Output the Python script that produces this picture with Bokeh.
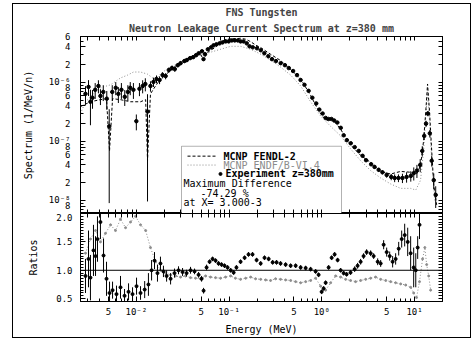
import math
from bokeh.plotting import figure
from bokeh.layouts import column
from bokeh.models import (LogAxis, LinearAxis, FixedTicker, Span, Label,
                          BoxAnnotation, Title, Range1d)
from bokeh.embed import file_html
from bokeh.resources import INLINE

# ---------------- data ----------------
exp_energy = [2.83e-3, 3.05e-3, 3.2e-3, 3.37e-3, 3.6e-3, 3.9e-3, 4.1e-3, 4.4e-3, 4.8e-3, 5.1e-3,
              5.5e-3, 6.0e-3, 6.4e-3, 6.9e-3, 7.5e-3, 8.1e-3, 8.6e-3, 9.3e-3, 1.0e-2, 1.08e-2,
              1.17e-2, 1.25e-2, 1.32e-2, 1.42e-2, 1.53e-2, 1.65e-2, 1.78e-2, 1.92e-2, 2.07e-2, 2.24e-2,
              2.42e-2, 2.6e-2, 2.8e-2, 3.0e-2, 3.3e-2, 3.5e-2, 3.8e-2, 4.1e-2, 4.4e-2, 4.7e-2,
              5.1e-2, 5.3e-2, 5.5e-2, 5.9e-2, 6.4e-2, 6.8e-2, 7.3e-2, 7.9e-2, 8.5e-2, 9.2e-2,
              9.9e-2, 0.107, 0.115, 0.124, 0.133, 0.143, 0.155, 0.166, 0.18, 0.20,
              0.22, 0.24, 0.265, 0.29, 0.32, 0.36, 0.40, 0.44, 0.49, 0.54,
              0.59, 0.65, 0.72, 0.79, 0.87, 0.94, 1.02, 1.10, 1.18, 1.27,
              1.36, 1.47, 1.60, 1.72, 1.86, 2.05, 2.26, 2.5, 2.75, 3.0,
              3.4, 3.7, 4.1, 4.5, 5.0, 5.6, 6.1, 6.7, 7.4, 8.2,
              9.1, 9.8, 10.6, 11.5, 12.1, 12.7, 13.3, 13.9, 14.6, 15.3,
              16.1, 16.9]
exp_flux = [6.4e-7, 8.4e-7, 4.7e-7, 5.5e-7, 7.5e-7, 8.7e-7, 5.9e-7, 6.9e-7, 5.3e-7, 1.8e-7,
            6.9e-7, 8.1e-7, 6.4e-7, 7.5e-7, 5.7e-7, 6.9e-7, 8.1e-7, 7.5e-7, 2.2e-7, 7.8e-7,
            8.7e-7, 9.4e-7, 3.2e-7, 8.7e-7, 1.02e-6, 1.14e-6, 1.10e-6, 1.33e-6, 1.28e-6, 1.62e-6,
            1.75e-6, 1.68e-6, 1.96e-6, 2.12e-6, 2.30e-6, 2.39e-6, 2.58e-6, 2.68e-6, 2.89e-6, 3.12e-6,
            3.37e-6, 2.48e-6, 3.01e-6, 3.64e-6, 3.93e-6, 4.25e-6, 4.42e-6, 4.59e-6, 4.77e-6, 4.96e-6,
            4.96e-6, 5.15e-6, 5.15e-6, 5.15e-6, 4.96e-6, 4.96e-6, 4.59e-6, 4.09e-6, 3.93e-6, 3.79e-6,
            3.51e-6, 3.12e-6, 2.78e-6, 2.48e-6, 2.30e-6, 2.12e-6, 1.96e-6, 1.75e-6, 1.56e-6, 1.33e-6,
            1.10e-6, 9.1e-7, 7.2e-7, 5.5e-7, 4.4e-7, 3.46e-7, 2.97e-7, 2.5e-7, 2.4e-7, 2.4e-7,
            2.26e-7, 2.09e-7, 1.7e-7, 1.27e-7, 1.05e-7, 9.3e-8, 8.0e-8, 6.9e-8, 5.7e-8, 4.8e-8,
            4.1e-8, 3.7e-8, 3.3e-8, 3.0e-8, 2.7e-8, 2.5e-8, 2.4e-8, 2.4e-8, 2.4e-8, 2.5e-8,
            2.6e-8, 2.9e-8, 3.2e-8, 4.0e-8, 6.9e-8, 1.24e-7, 2.0e-7, 2.97e-7, 1.37e-7, 4.7e-8,
            2.2e-8, 1.24e-8]
exp_relerr = [0.35, 0.3, 0.6, 0.35, 0.3, 0.25, 0.3, 0.3, 0.35, 0.95,
              0.3, 0.25, 0.3, 0.3, 0.3, 0.3, 0.25, 0.3, 0.3, 0.25,
              0.25, 0.25, 0.97, 0.2, 0.18, 0.15, 0.15, 0.12, 0.12, 0.1,
              0.1, 0.1, 0.08, 0.08, 0.07, 0.07, 0.06, 0.06, 0.05, 0.05,
              0.05, 0.06, 0.05, 0.04, 0.04, 0.04, 0.04, 0.04, 0.03, 0.03,
              0.03, 0.03, 0.03, 0.03, 0.03, 0.03, 0.03, 0.03, 0.03, 0.03,
              0.03, 0.03, 0.03, 0.03, 0.03, 0.03, 0.03, 0.03, 0.03, 0.03,
              0.03, 0.03, 0.03, 0.04, 0.04, 0.04, 0.04, 0.04, 0.04, 0.04,
              0.04, 0.04, 0.05, 0.05, 0.05, 0.05, 0.05, 0.06, 0.06, 0.06,
              0.07, 0.07, 0.08, 0.08, 0.1, 0.12, 0.15, 0.15, 0.18, 0.2,
              0.2, 0.25, 0.25, 0.25, 0.2, 0.15, 0.12, 0.1, 0.15, 0.2,
              0.3, 0.4]

fendl_energy = [2.5e-3, 3.2e-3, 4.1e-3, 4.77e-3, 5.14e-3, 5.54e-3, 6.75e-3, 8.66e-3, 1.11e-2, 1.26e-2,
                1.32e-2, 1.42e-2, 1.61e-2, 1.82e-2, 2.06e-2, 2.34e-2, 2.65e-2, 3.0e-2, 3.39e-2, 3.84e-2,
                4.35e-2, 4.93e-2, 5.31e-2, 5.72e-2, 6.31e-2, 7.15e-2, 8.09e-2, 9.16e-2, 0.104, 0.117,
                0.133, 0.151, 0.171, 0.193, 0.219, 0.280, 0.359, 0.461, 0.591, 0.757,
                0.923, 1.099, 1.307, 1.595, 2.04, 2.62, 3.36, 4.31, 5.52, 7.08,
                9.07, 10.5, 11.6, 12.5, 13.2, 13.8, 14.5, 15.3, 16.1, 17.3]
fendl_flux = [3.9e-7, 4.7e-7, 5.1e-7, 5.3e-7, 6.9e-8, 5.3e-7, 5.1e-7, 4.7e-7, 4.7e-7, 5.1e-7,
              4.7e-8, 6.4e-7, 8.7e-7, 1.14e-6, 1.33e-6, 1.62e-6, 1.89e-6, 2.21e-6, 2.48e-6, 2.68e-6,
              2.89e-6, 3.01e-6, 2.39e-6, 3.12e-6, 3.51e-6, 3.93e-6, 4.9e-6, 5.3e-6, 5.5e-6, 5.5e-6,
              5.6e-6, 5.4e-6, 4.9e-6, 4.3e-6, 3.9e-6, 3.0e-6, 2.35e-6, 1.65e-6, 1.15e-6, 6.0e-7,
              3.3e-7, 2.3e-7, 2.4e-7, 1.6e-7, 8.8e-8, 5.8e-8, 4.4e-8, 3.1e-8, 2.8e-8, 3.1e-8,
              3.0e-8, 2.8e-8, 3.9e-8, 1.02e-7, 3.2e-7, 9.4e-7, 3.2e-7, 6.9e-8, 1.8e-8, 8.4e-9]

endf_energy = [2.5e-3, 2.83e-3, 3.45e-3, 4.1e-3, 5.27e-3, 6.75e-3, 8.04e-3, 9.33e-3, 1.11e-2, 1.32e-2,
               1.50e-2, 1.69e-2, 1.92e-2, 2.34e-2, 3.0e-2, 3.84e-2, 4.93e-2, 6.31e-2, 8.09e-2, 0.104,
               0.133, 0.171, 0.219, 0.280, 0.359, 0.461, 0.591, 0.757, 0.970, 1.244,
               1.595, 2.04, 2.62, 3.36, 4.31, 5.52, 7.08, 9.07, 10.3, 11.6,
               12.5, 13.2, 13.8, 14.5, 15.3, 16.5]
endf_flux = [2.97e-7, 4.7e-7, 6.4e-7, 8.1e-7, 9.1e-7, 1.19e-6, 1.33e-6, 1.50e-6, 1.50e-6, 1.38e-6,
             1.19e-6, 1.23e-6, 1.50e-6, 1.82e-6, 2.21e-6, 2.58e-6, 2.89e-6, 3.25e-6, 3.64e-6, 4.09e-6,
             4.09e-6, 3.64e-6, 3.01e-6, 2.39e-6, 1.82e-6, 1.33e-6, 8.7e-7, 4.7e-7, 2.7e-7, 1.8e-7,
             1.24e-7, 7.5e-8, 4.7e-8, 3.2e-8, 2.4e-8, 1.9e-8, 1.6e-8, 1.6e-8, 1.5e-8, 2.2e-8,
             6.9e-8, 2.7e-7, 6.9e-7, 2.2e-7, 4.7e-8, 1.0e-8]

ratio_fendl_energy = [2.83e-3, 3.05e-3, 3.2e-3, 3.45e-3, 3.63e-3, 3.81e-3, 4.1e-3, 4.43e-3, 4.77e-3, 5.14e-3,
                      5.54e-3, 6.11e-3, 6.75e-3, 7.46e-3, 8.24e-3, 9.10e-3, 1.005e-2, 1.11e-2, 1.23e-2, 1.35e-2,
                      1.46e-2, 1.57e-2, 1.69e-2, 1.82e-2, 1.96e-2, 2.12e-2, 2.34e-2, 2.58e-2, 2.85e-2, 3.15e-2,
                      3.48e-2, 3.84e-2, 4.24e-2, 4.69e-2, 5.05e-2, 5.31e-2, 5.72e-2, 6.16e-2, 6.64e-2, 7.15e-2,
                      7.70e-2, 8.30e-2, 8.94e-2, 9.63e-2, 0.104, 0.112, 0.120, 0.133, 0.147, 0.162,
                      0.179, 0.198, 0.219, 0.241, 0.267, 0.295, 0.325, 0.359, 0.407, 0.461,
                      0.522, 0.591, 0.669, 0.757, 0.857, 0.923, 0.995, 1.046, 1.099, 1.184,
                      1.276, 1.374, 1.480, 1.595, 1.718, 1.851, 2.04, 2.26, 2.43, 2.62,
                      2.82, 3.04, 3.36, 3.62, 4.00, 4.31, 4.64, 5.00, 5.39, 5.80,
                      6.25, 6.74, 7.26, 7.82, 8.43, 9.07, 9.78, 10.3, 10.8, 11.3]
ratio_fendl = [0.90, 1.20, 0.87, 1.35, 1.25, 1.55, 1.85, 1.26, 0.85, 0.60,
               0.65, 0.58, 0.70, 0.55, 0.62, 0.58, 0.72, 0.60, 0.66, 0.75,
               1.00, 1.17, 0.95, 1.12, 0.98, 0.90, 0.85, 0.95, 1.00, 0.97,
               0.95, 1.00, 0.98, 0.92, 0.85, 0.64, 1.05, 1.15, 1.20, 1.17,
               1.12, 1.10, 1.08, 1.05, 1.00, 0.96, 1.05, 1.15, 1.22, 1.28,
               1.28, 1.18, 1.12, 1.22, 1.20, 1.14, 1.14, 1.12, 1.10, 1.08,
               1.08, 1.05, 1.04, 1.02, 0.98, 0.92, 0.62, 0.68, 0.78, 1.05,
               1.22, 1.28, 1.18, 1.00, 0.95, 0.93, 0.96, 1.02, 1.08, 1.15,
               1.25, 1.32, 1.30, 1.25, 1.15, 1.12, 1.45, 1.32, 1.25, 1.15,
               1.20, 1.38, 1.55, 1.62, 1.50, 1.30, 1.05, 1.00, 1.40, 1.80]
ratio_fendl_err = [0.30, 0.50, 0.40, 0.45, 0.35, 0.40, 0.30, 0.30, 0.30, 0.20,
                   0.15, 0.15, 0.20, 0.12, 0.15, 0.12, 0.15, 0.12, 0.15, 0.20,
                   0.18, 0.15, 0.15, 0.12, 0.10, 0.10, 0.10, 0.08, 0.07, 0.07,
                   0.06, 0.06, 0.05, 0.05, 0.05, 0.05, 0.05, 0.04, 0.04, 0.04,
                   0.04, 0.04, 0.04, 0.04, 0.04, 0.04, 0.04, 0.04, 0.04, 0.04,
                   0.04, 0.04, 0.04, 0.04, 0.04, 0.04, 0.04, 0.04, 0.04, 0.04,
                   0.04, 0.04, 0.04, 0.04, 0.04, 0.04, 0.04, 0.04, 0.04, 0.04,
                   0.04, 0.04, 0.04, 0.04, 0.04, 0.04, 0.04, 0.05, 0.05, 0.05,
                   0.05, 0.05, 0.05, 0.05, 0.06, 0.06, 0.08, 0.08, 0.08, 0.10,
                   0.10, 0.12, 0.15, 0.20, 0.25, 0.30, 0.35, 0.30, 0.20, 0.25]

ratio_endf_energy = [2.83e-3, 3.2e-3, 3.63e-3, 4.1e-3, 4.65e-3, 5.27e-3, 5.96e-3, 6.75e-3, 7.65e-3, 8.66e-3,
                     9.80e-3, 1.11e-2, 1.26e-2, 1.42e-2, 1.61e-2, 1.82e-2, 2.06e-2, 2.34e-2, 2.65e-2, 3.0e-2,
                     3.39e-2, 3.84e-2, 4.35e-2, 4.93e-2, 5.58e-2, 6.31e-2, 7.15e-2, 8.09e-2, 9.16e-2, 0.104,
                     0.117, 0.133, 0.151, 0.171, 0.193, 0.219, 0.248, 0.280, 0.317, 0.359,
                     0.407, 0.461, 0.522, 0.591, 0.669, 0.757, 0.857, 0.970, 1.099, 1.244,
                     1.409, 1.595, 1.806, 2.04, 2.31, 2.62, 2.97, 3.36, 3.80, 4.31,
                     4.88, 5.52, 6.25, 7.08, 8.02, 9.07, 9.78, 10.5, 11.3, 12.2,
                     12.9, 13.5, 14.2, 14.9]
ratio_endf = [1.30, 1.55, 1.70, 1.50, 1.65, 1.80, 1.70, 1.90, 1.75, 1.85,
              1.95, 1.80, 1.70, 1.40, 1.15, 1.00, 0.95, 0.92, 0.90, 0.88,
              0.90, 0.87, 0.86, 0.85, 0.90, 0.88, 0.87, 0.86, 0.88, 0.90,
              0.86, 0.84, 0.86, 0.88, 0.85, 0.84, 0.83, 0.82, 0.85, 0.84,
              0.83, 0.82, 0.80, 0.78, 0.80, 0.82, 0.86, 0.72, 0.65, 0.78,
              0.90, 0.88, 0.84, 0.82, 0.80, 0.82, 0.84, 0.86, 0.88, 0.84,
              0.82, 0.80, 0.78, 0.76, 0.74, 0.70, 0.60, 0.52, 0.80, 1.20,
              1.40, 1.10, 0.90, 0.65]

# axis ticks and tick labels
x_major = [5e-3, 1e-2, 5e-2, 0.1, 0.5, 1.0, 5.0, 10.0]
x_major_labels = ["5", "10\u207b\u00b2", "5", "10\u207b\u00b9", "5", "10\u2070", "5", "10\u00b9"]
x_minor = [3e-3, 4e-3, 6e-3, 7e-3, 8e-3, 9e-3, 2e-2, 3e-2, 4e-2, 6e-2, 7e-2, 8e-2, 9e-2,
           0.2, 0.3, 0.4, 0.6, 0.7, 0.8, 0.9, 2.0, 3.0, 4.0, 6.0, 7.0, 8.0, 9.0]
y_major = [8e-9, 1e-8, 2e-8, 4e-8, 6e-8, 8e-8, 1e-7, 2e-7, 4e-7, 6e-7, 8e-7, 1e-6, 2e-6, 4e-6, 6e-6]
y_major_labels = ["8", "10\u207b\u2078", "2", "4", "6", "8", "10\u207b\u2077", "2", "4", "6", "8",
                  "10\u207b\u2076", "2", "4", "6"]
y_minor = [7e-9, 9e-9, 3e-8, 5e-8, 7e-8, 9e-8, 3e-7, 5e-7, 7e-7, 9e-7, 3e-6, 5e-6]
r_major = [0.5, 1.0, 1.5, 2.0]
r_major_labels = ["0.5", "1.0", "1.5", "2.0"]

# ---------------- layout / styling ----------------
FONT = "DejaVu Sans Mono"
X0, X1 = 2.5e-3, 20.0
Y0, Y1 = 6e-9, 6e-6
FL, FR, FT, FB = 80, 442, 34, 213   # page pixels of the upper frame


def ex(px):
    return 10 ** (math.log10(X0) + (px - FL) / (FR - FL) * (math.log10(X1) - math.log10(X0)))


def ey(py):
    return 10 ** (math.log10(Y0) + (FB - py) / (FB - FT) * (math.log10(Y1) - math.log10(Y0)))


def style_axis(ax):
    ax.axis_line_color = "black"
    ax.major_tick_in = 5
    ax.major_tick_out = 0
    ax.minor_tick_in = 3
    ax.minor_tick_out = 0
    ax.major_tick_line_color = "black"
    ax.minor_tick_line_color = "black"
    ax.major_label_text_font = FONT
    ax.major_label_text_color = "black"
    ax.axis_label_text_font = FONT
    ax.axis_label_text_font_style = "normal"
    ax.axis_label_text_color = "black"


def tick_only_axis(cls, ticks):
    # an axis with tick marks only (no major ticks -> no labels at all)
    ax = cls(ticker=FixedTicker(ticks=[], minor_ticks=ticks))
    ax.axis_line_color = "black"
    ax.minor_tick_in = 4
    ax.minor_tick_out = 0
    ax.minor_tick_line_color = "black"
    ax.major_tick_in = 0
    ax.major_tick_out = 0
    ax.major_label_standoff = 0
    return ax


xr = Range1d(X0, X1)
p1 = figure(width=457, height=209, x_axis_type="log", y_axis_type="log",
            x_range=xr, y_range=Range1d(Y0, Y1), x_axis_location=None,
            output_backend="svg", toolbar_location=None,
            min_border_left=67, min_border_right=28, min_border_top=30, min_border_bottom=0)
p1.grid.visible = False
p1.outline_line_color = "black"
p1.background_fill_color = "white"

xt = FixedTicker(ticks=x_major, minor_ticks=x_minor)
yt = FixedTicker(ticks=y_major, minor_ticks=y_minor)

p1.yaxis.ticker = yt
style_axis(p1.yaxis[0])
p1.yaxis.major_label_overrides = dict(zip(y_major, y_major_labels))
p1.yaxis.major_label_text_font_size = "9px"
p1.yaxis.major_label_standoff = 10
p1.yaxis.axis_label = "Spectrum (1/MeV/n)"
p1.yaxis.axis_label_text_font_size = "10px"
p1.yaxis.axis_label_standoff = 12

p1.add_layout(tick_only_axis(LogAxis, x_major + x_minor), "below")
p1.add_layout(tick_only_axis(LogAxis, x_major + x_minor), "above")
p1.add_layout(tick_only_axis(LogAxis, y_major + y_minor), "right")

p1.add_layout(Title(text="Neutron Leakage Current Spectrum at z=380 mm", align="center",
                    text_font=FONT, text_font_size="10px", text_font_style="bold",
                    standoff=6), "above")
p1.add_layout(Title(text="FNS Tungsten", align="center",
                    text_font=FONT, text_font_size="10px", text_font_style="bold",
                    standoff=0), "above")

# calculations
p1.line(endf_energy, endf_flux, line_color="#8c8c8c", line_dash="1 2", line_width=1)
p1.line(fendl_energy, fendl_flux, line_color="black", line_dash="3 2", line_width=1)
# experiment
exp_lo = [max(f * (1 - e), 1e-10) for f, e in zip(exp_flux, exp_relerr)]
exp_hi = [f * (1 + e) for f, e in zip(exp_flux, exp_relerr)]
p1.segment(x0=exp_energy, y0=exp_lo, x1=exp_energy, y1=exp_hi, line_color="black", line_width=1)
p1.scatter(exp_energy, exp_flux, size=3.5, color="black")

# legend box
p1.add_layout(BoxAnnotation(left=ex(181), right=ex(341), top=ey(145), bottom=ey(213),
                            fill_color="white", fill_alpha=1.0, line_color="black",
                            line_width=1, level="underlay"))
p1.line([ex(187), ex(217)], [ey(155), ey(155)], line_color="black", line_dash="3 2")
p1.line([ex(187), ex(217)], [ey(164), ey(164)], line_color="#8c8c8c", line_dash="1 2")
p1.scatter([ex(220)], [ey(173)], size=3, color="black")
leg = [("MCNP FENDL-2", 223, 155, "black", "bold"),
       ("MCNP ENDF/B-VI.4", 223, 164, "#8c8c8c", "normal"),
       ("Experiment z=380mm", 225, 173, "black", "bold"),
       ("Maximum Difference", 183, 183, "black", "normal"),
       ("-74.29 %", 200, 193, "black", "normal"),
       ("at X= 3.000-3", 183, 202, "black", "normal")]
for txt, px, py, col, sty in leg:
    p1.add_layout(Label(x=ex(px), y=ey(py), text=txt, text_font=FONT, text_font_size="10px",
                        text_color=col, text_font_style=sty, text_baseline="middle",
                        text_align="left"))

# ---------------- ratio panel ----------------
p2 = figure(width=457, height=124, x_axis_type="log", x_range=xr, y_range=Range1d(0.45, 2.0),
            output_backend="svg", toolbar_location=None,
            min_border_left=67, min_border_right=28, min_border_top=0, min_border_bottom=36)
p2.grid.visible = False
p2.outline_line_color = "black"
p2.xaxis.ticker = xt
style_axis(p2.xaxis[0])
p2.xaxis.major_label_overrides = dict(zip(x_major, x_major_labels))
p2.xaxis.major_label_text_font_size = "9px"
p2.xaxis.major_label_standoff = 5
p2.xaxis.axis_label = "Energy (MeV)"
p2.xaxis.axis_label_text_font_size = "10px"
p2.xaxis.axis_label_standoff = 4

r_minor = [round(0.45 + 0.05 * i, 2) for i in range(32)]
rt = FixedTicker(ticks=r_major, minor_ticks=r_minor)
p2.yaxis.ticker = rt
style_axis(p2.yaxis[0])
p2.yaxis.major_label_overrides = dict(zip(r_major, r_major_labels))
p2.yaxis.major_label_text_font_size = "9px"
p2.yaxis.major_label_standoff = 8
p2.yaxis.axis_label = "Ratios"
p2.yaxis.axis_label_text_font_size = "10px"
p2.yaxis.axis_label_standoff = 14

p2.add_layout(tick_only_axis(LogAxis, x_major + x_minor), "above")
p2.add_layout(tick_only_axis(LinearAxis, r_minor), "right")

p2.add_layout(Span(location=1.0, dimension="width", line_color="black", line_width=1))
p2.line(ratio_endf_energy, ratio_endf, line_color="#8c8c8c", line_dash="1 2")
p2.scatter(ratio_endf_energy, ratio_endf, size=2, color="#8c8c8c")
r_lo = [r - e for r, e in zip(ratio_fendl, ratio_fendl_err)]
r_hi = [r + e for r, e in zip(ratio_fendl, ratio_fendl_err)]
p2.segment(x0=ratio_fendl_energy, y0=r_lo, x1=ratio_fendl_energy, y1=r_hi, line_color="black")
p2.scatter(ratio_fendl_energy, ratio_fendl, size=3, color="black")

layout = column(p1, p2, margin=(3, 0, 0, 12), styles={"border": "1px solid black"})
open("out.html", "w").write(file_html(layout, INLINE))
